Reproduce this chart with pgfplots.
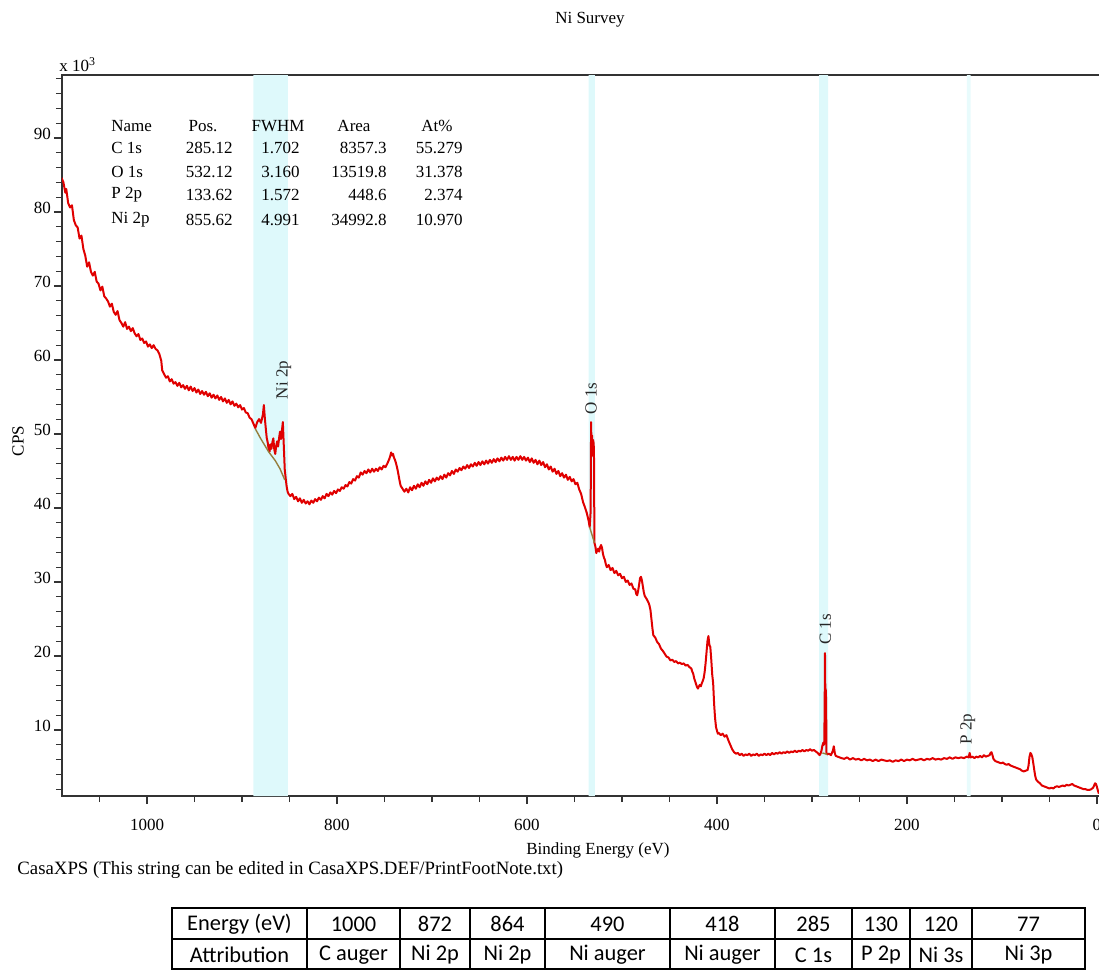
\documentclass[border=0pt]{standalone}
\usepackage{pgfplots}
\usepackage{pgfplotstable}
\pgfplotsset{compat=1.18}
\usepackage{fontspec}
\setmainfont{Liberation Serif}
\newfontfamily\tabfont{Carlito}
\definecolor{band}{RGB}{222,249,251}
\definecolor{spec}{RGB}{224,0,0}
\definecolor{bgl}{RGB}{150,125,60}

\pgfplotstableread{
E V
1090 84.6
1088 84.0
1086 82.6
1085 83.1
1083 81.2
1081 80.6
1079 80.9
1077 78.9
1075 78.2
1073 77.9
1071 76.4
1069 76.8
1067 75.0
1065 74.1
1063 72.6
1061 73.2
1059 71.9
1057 71.4
1055 71.9
1053 70.6
1051 70.3
1049 69.4
1047 69.9
1045 68.6
1043 68.3
1041 67.9
1039 67.2
1037 67.6
1035 66.5
1033 66.1
1031 66.6
1029 65.4
1027 65.0
1025 64.5
1023 65.1
1021 64.2
1019 64.5
1017 63.9
1015 64.3
1013 63.6
1011 63.2
1009 63.5
1007 62.7
1005 62.9
1003 62.3
1001 62.5
999 61.8
997 62.1
995 61.6
993 62.0
991 61.5
989 61.3
987 60.8
985 59.9
984 58.6
982 58.1
980 57.6
978 57.8
976 57.1
974 57.4
972 56.8
970 57.0
968 56.5
966 56.9
964 56.3
962 56.6
960 56.1
958 56.5
956 55.9
954 56.4
952 55.8
950 56.2
948 55.6
946 56.0
944 55.4
942 55.8
940 55.3
938 55.7
936 55.1
934 55.5
932 54.9
930 55.3
928 54.8
926 55.2
924 54.6
922 55.0
920 54.4
918 54.8
916 54.2
914 54.6
912 54.0
910 54.4
908 53.8
906 54.1
904 53.6
902 53.9
900 53.3
898 53.5
896 52.9
894 52.8
892 52.2
890 52.0
888 51.4
886 50.8
884 51.6
882 52.0
880 51.5
878 52.6
877 53.9
876 52.2
875 50.8
874 49.5
873 48.9
872 48.0
871 47.6
870 48.6
869 48.0
868 48.9
867 49.4
866 47.9
865 47.3
864 48.4
863 49.0
862 48.3
861 49.4
860 50.3
859 49.3
858 50.4
857 51.6
856 48.4
855 45.2
854 44.0
853 42.9
852 42.2
851 41.9
849 41.6
847 41.9
845 41.2
843 41.5
841 40.9
839 41.3
837 40.7
835 41.1
833 40.6
831 40.9
829 40.5
827 41.0
825 40.7
823 41.2
821 40.9
819 41.4
817 41.1
815 41.6
813 41.3
811 41.9
809 41.6
807 42.1
805 41.8
803 42.3
801 42.0
799 42.5
797 42.3
795 42.8
793 42.6
791 43.1
789 42.9
787 43.5
785 43.3
783 43.9
781 43.7
779 44.3
777 44.1
775 44.8
773 44.5
771 45.0
769 44.7
767 45.2
765 44.8
763 45.3
761 44.9
759 45.3
757 45.0
755 45.5
753 45.2
751 45.7
749 45.5
747 46.0
745 46.6
744 47.0
743 47.5
742 47.1
741 47.3
740 46.8
739 46.5
738 46.1
737 45.6
736 45.0
735 44.3
734 43.6
733 43.0
731 42.6
729 42.2
727 42.6
725 42.1
723 42.8
721 42.4
719 43.0
717 42.6
715 43.2
713 42.8
711 43.4
709 43.0
707 43.6
705 43.2
703 43.8
701 43.4
699 44.0
697 43.6
695 44.1
693 43.8
691 44.3
689 43.9
687 44.5
685 44.1
683 44.7
681 44.4
679 45.0
677 44.6
675 45.2
673 44.9
671 45.4
669 45.1
667 45.6
665 45.3
663 45.8
661 45.4
659 45.9
657 45.6
655 46.1
653 45.7
651 46.2
649 45.8
647 46.3
645 45.9
643 46.4
641 46.0
639 46.5
637 46.1
635 46.6
633 46.2
631 46.7
629 46.3
627 46.8
625 46.4
623 46.9
621 46.5
619 47.0
617 46.5
615 46.9
613 46.4
611 46.9
609 46.5
607 47.0
605 46.5
603 46.9
601 46.4
599 46.8
597 46.2
595 46.7
593 46.1
591 46.5
589 45.9
587 46.4
585 45.8
583 46.2
581 45.5
579 45.9
577 45.2
575 45.6
573 44.9
571 45.3
569 44.6
567 45.0
565 44.3
563 44.7
561 44.1
559 44.5
557 43.8
555 44.2
553 43.6
551 43.9
549 43.2
547 43.4
545 42.5
543 41.9
541 40.8
539 40.1
537 39.3
535 38.2
534 37.4
533 39.5
532.5 51.6
532 47.0
531.5 49.8
531 48.5
530.5 49.2
530 48.9
529.5 48.0
529 35.3
528 34.8
527 33.9
526 34.3
525 34.5
524 34.1
523 34.7
522 35.0
521 34.6
520 33.8
519 33.3
518 33.0
517 32.4
516 32.0
514 32.3
512 31.6
510 31.9
508 31.2
506 31.5
504 30.9
502 31.1
500 30.5
498 30.7
496 30.0
494 30.2
492 29.6
490 29.8
488 29.1
486 29.0
485 28.4
484 28.2
483 28.8
482 29.6
481 30.5
480 30.7
479 30.2
478 29.4
477 28.6
476 28.1
474 27.7
472 27.2
471 26.8
470 26.2
469 25.0
468 23.8
467 22.8
465 22.5
463 21.9
461 21.6
459 21.0
457 20.7
455 20.3
453 19.9
451 19.8
449 19.4
447 19.5
445 19.2
443 19.3
441 19.0
439 19.1
437 18.9
435 19.0
433 18.7
431 18.8
429 18.5
427 18.3
426 17.9
425 17.6
424 17.0
423 16.6
422 16.2
421 15.8
420 15.6
419 15.9
418 16.1
417 15.9
416 16.3
415 16.6
414 17.0
413 17.8
412 19.0
411 20.5
410 22.0
409 22.7
408 21.5
407 21.2
406 19.5
405 17.5
404 16.3
403 13.5
402 11.6
401 10.4
400 9.9
399 9.5
398 9.6
396 9.3
394 9.5
392 9.1
390 9.3
388 8.6
386 8.0
384 7.4
382 7.0
380 6.8
378 6.9
376 6.6
374 6.8
372 6.5
370 6.7
368 6.6
366 6.8
364 6.5
362 6.7
360 6.6
358 6.8
356 6.5
354 6.7
352 6.6
350 6.8
348 6.6
346 6.8
344 6.6
342 6.9
340 6.7
338 6.9
336 6.8
334 7.0
332 6.8
330 7.0
328 6.9
326 7.1
324 6.9
322 7.1
320 7.0
318 7.2
316 7.0
314 7.2
312 7.1
310 7.3
308 7.1
306 7.3
304 7.2
302 7.4
300 7.2
298 7.3
296 7.1
294 6.9
292 6.6
291 6.8
290 7.2
289 7.9
288 8.3
287.5 8.0
287 8.2
286.6 14.0
286.3 20.4
286 16.0
285.7 15.5
285.3 15.3
285 12.0
284.7 6.9
284 6.7
282 6.8
280 6.6
278 7.2
277 7.8
276 6.9
275 6.5
273 6.4
271 6.3
269 6.2
266 6.1
263 6.3
260 6.0
257 6.2
254 6.0
251 6.1
248 5.9
245 6.1
242 5.9
239 6.0
236 5.8
233 6.0
230 5.8
227 6.0
224 5.9
221 5.8
218 5.9
215 5.7
212 5.9
209 5.8
206 6.0
203 5.8
200 6.0
197 5.9
194 6.1
191 5.9
188 6.0
185 6.1
182 5.9
179 6.1
176 6.0
173 6.2
170 6.0
167 6.1
164 6.0
161 6.2
158 6.1
155 6.3
152 6.1
149 6.3
146 6.2
143 6.3
140 6.2
137 6.4
135 6.3
134 6.9
133 6.3
131 6.4
129 6.2
127 6.4
125 6.3
123 6.5
121 6.3
119 6.6
117 6.4
115 6.5
113 6.6
112 6.9
111 7.0
110 6.6
109 6.1
107 5.8
105 5.7
103 5.6
101 5.5
99 5.6
97 5.4
95 5.3
93 5.4
91 5.2
89 5.1
87 5.0
85 4.9
83 4.8
81 4.7
79 4.5
77 4.4
75 4.5
73 4.6
72 5.2
71 6.4
70 6.9
69 6.7
68 6.3
67 5.5
66 4.6
65 3.8
64 3.3
62 3.0
60 2.8
58 2.5
56 2.4
54 2.3
52 2.2
50 2.1
48 2.2
46 2.1
44 2.3
42 2.4
40 2.3
38 2.4
36 2.5
34 2.4
32 2.6
30 2.5
28 2.6
26 2.7
24 2.5
22 2.4
20 2.3
18 2.2
16 2.1
14 2.0
12 2.0
10 1.9
8 1.9
6 2.0
4 2.2
2 2.8
1 2.7
0 2.3
-1 1.8
-2 1.4
}\spectrum

\begin{document}
\begin{tikzpicture}
\begin{axis}[
  at={(31pt,-398pt)}, anchor=south west,
  scale only axis, width=519pt, height=360.5pt,
  x dir=reverse, xmin=-3.2, xmax=1089.5, ymin=1.08, ymax=98.5,
  xtick={0,200,...,1000}, minor xtick={50,100,...,1050},
  ytick={10,20,...,90}, minor ytick={2,4,...,98},
  xtick pos=bottom, ytick pos=left,
  tick align=outside, major tick length=4pt, minor tick length=3pt,
  axis line style={line width=0.8pt, black!80},
  every tick/.style={black!80, line width=0.6pt},
  minor tick style={black!80, line width=0.6pt},
  major tick style={black!80, line width=0.6pt},
  ticklabel style={font=\fontsize{8.5}{10}\selectfont},
  /pgf/number format/assume math mode=true,
  /pgf/number format/1000 sep={},
  xticklabel style={yshift=-4pt},
  yticklabel style={xshift=2pt, yshift=2pt},
  clip=true,
]
\addplot[fill=band, draw=none] coordinates {(888,1.08) (851.6,1.08) (851.6,98.5) (888,98.5) (888,1.08)};
\addplot[fill=band, draw=none] coordinates {(535,1.08) (528.6,1.08) (528.6,98.5) (535,98.5) (535,1.08)};
\addplot[fill=band, draw=none] coordinates {(292.5,1.08) (283,1.08) (283,98.5) (292.5,98.5) (292.5,1.08)};
\addplot[fill=band!70!white, draw=none] coordinates {(137,1.08) (133,1.08) (133,98.5) (137,98.5) (137,1.08)};
\addplot[spec, line width=1pt, line join=round] table[x=E, y=V] {\spectrum};
\addplot[bgl, line width=0.7pt] coordinates {(886,50.7) (880,49.3) (872,47.6) (865,46.4) (860,45.3) (855,43.8)};
\addplot[bgl, line width=0.7pt] coordinates {(534,37.4) (529,35.3)};
\addplot[bgl, line width=0.7pt] coordinates {(289,6.9) (284,6.7)};
\node[rotate=90, font=\fontsize{8.5}{10}\selectfont, text=black!85] at (axis cs:856,57.3) {Ni 2p};
\node[rotate=90, font=\fontsize{8.5}{10}\selectfont, text=black!85] at (axis cs:532.6,54.8) {O 1s};
\node[rotate=90, font=\fontsize{8.5}{10}\selectfont, text=black!85] at (axis cs:286,23.6) {C 1s};
\node[rotate=90, font=\fontsize{8.5}{10}\selectfont, text=black!85] at (axis cs:136,10.1) {P 2p};
\end{axis}

\begin{scope}[x=0.5pt, y=-0.5pt, font=\fontsize{8.5}{10}\selectfont]
\node at (590,20) {Ni Survey};
\node[anchor=base west, inner sep=0pt] at (59,71) {x 10\textsuperscript{3}};
\node[rotate=90] at (18,441) {CPS};
\node at (598,850) {Binding Energy (eV)};
\node[anchor=west, inner sep=0pt, font=\fontsize{9.4}{11}\selectfont] at (17,870) {CasaXPS (This string can be edited in CasaXPS.DEF/PrintFootNote.txt)};
% peak table
\foreach \y/\n/\p/\f/\a/\t in {148/C 1s/285.12/1.702/8357.3/55.279, 172/O 1s/532.12/3.160/13519.8/31.378, 195/P 2p/133.62/1.572/448.6/2.374, 220/Ni 2p/855.62/4.991/34992.8/10.970}{
  \node[anchor=west, inner sep=0pt] at (111,\y) {\n};
  \node[anchor=east, inner sep=0pt] at (233,\y) {\p};
  \node[anchor=east, inner sep=0pt] at (300,\y) {\f};
  \node[anchor=east, inner sep=0pt] at (387,\y) {\a};
  \node[anchor=east, inner sep=0pt] at (463,\y) {\t};
}
\node[anchor=west, inner sep=0pt] at (111,126) {Name};
\node[inner sep=0pt] at (203,126) {Pos.};
\node[inner sep=0pt] at (278,126) {FWHM};
\node[inner sep=0pt] at (354,126) {Area};
\node[inner sep=0pt] at (437,126) {At\%};
% bottom table
\draw[line width=1pt] (172,908) rectangle (1085,969);
\draw[line width=1pt] (172,939) -- (1085,939);
\foreach \xx in {307,400,470,545,670,775,852,910,972}{\draw[line width=1pt] (\xx,908) -- (\xx,969);}
\begin{scope}[font=\tabfont\fontsize{11.2}{13}\selectfont]
\foreach \c/\top/\bot in {239.5/Energy (eV)/Attribution, 353.5/1000/C auger, 435/872/Ni 2p, 507.5/864/Ni 2p, 607.5/490/Ni auger, 722.5/418/Ni auger, 813.5/285/C 1s, 881/130/P 2p, 941/120/Ni 3s, 1028.5/77/Ni 3p}{
  \node[inner sep=0pt] at (\c,924) {\top};
  \node[inner sep=0pt] at (\c,955) {\bot};
}
\end{scope}
\end{scope}
\pgfresetboundingbox
\path[use as bounding box] (0,0) rectangle (549.5pt,-485pt);
\end{tikzpicture}
\end{document}
